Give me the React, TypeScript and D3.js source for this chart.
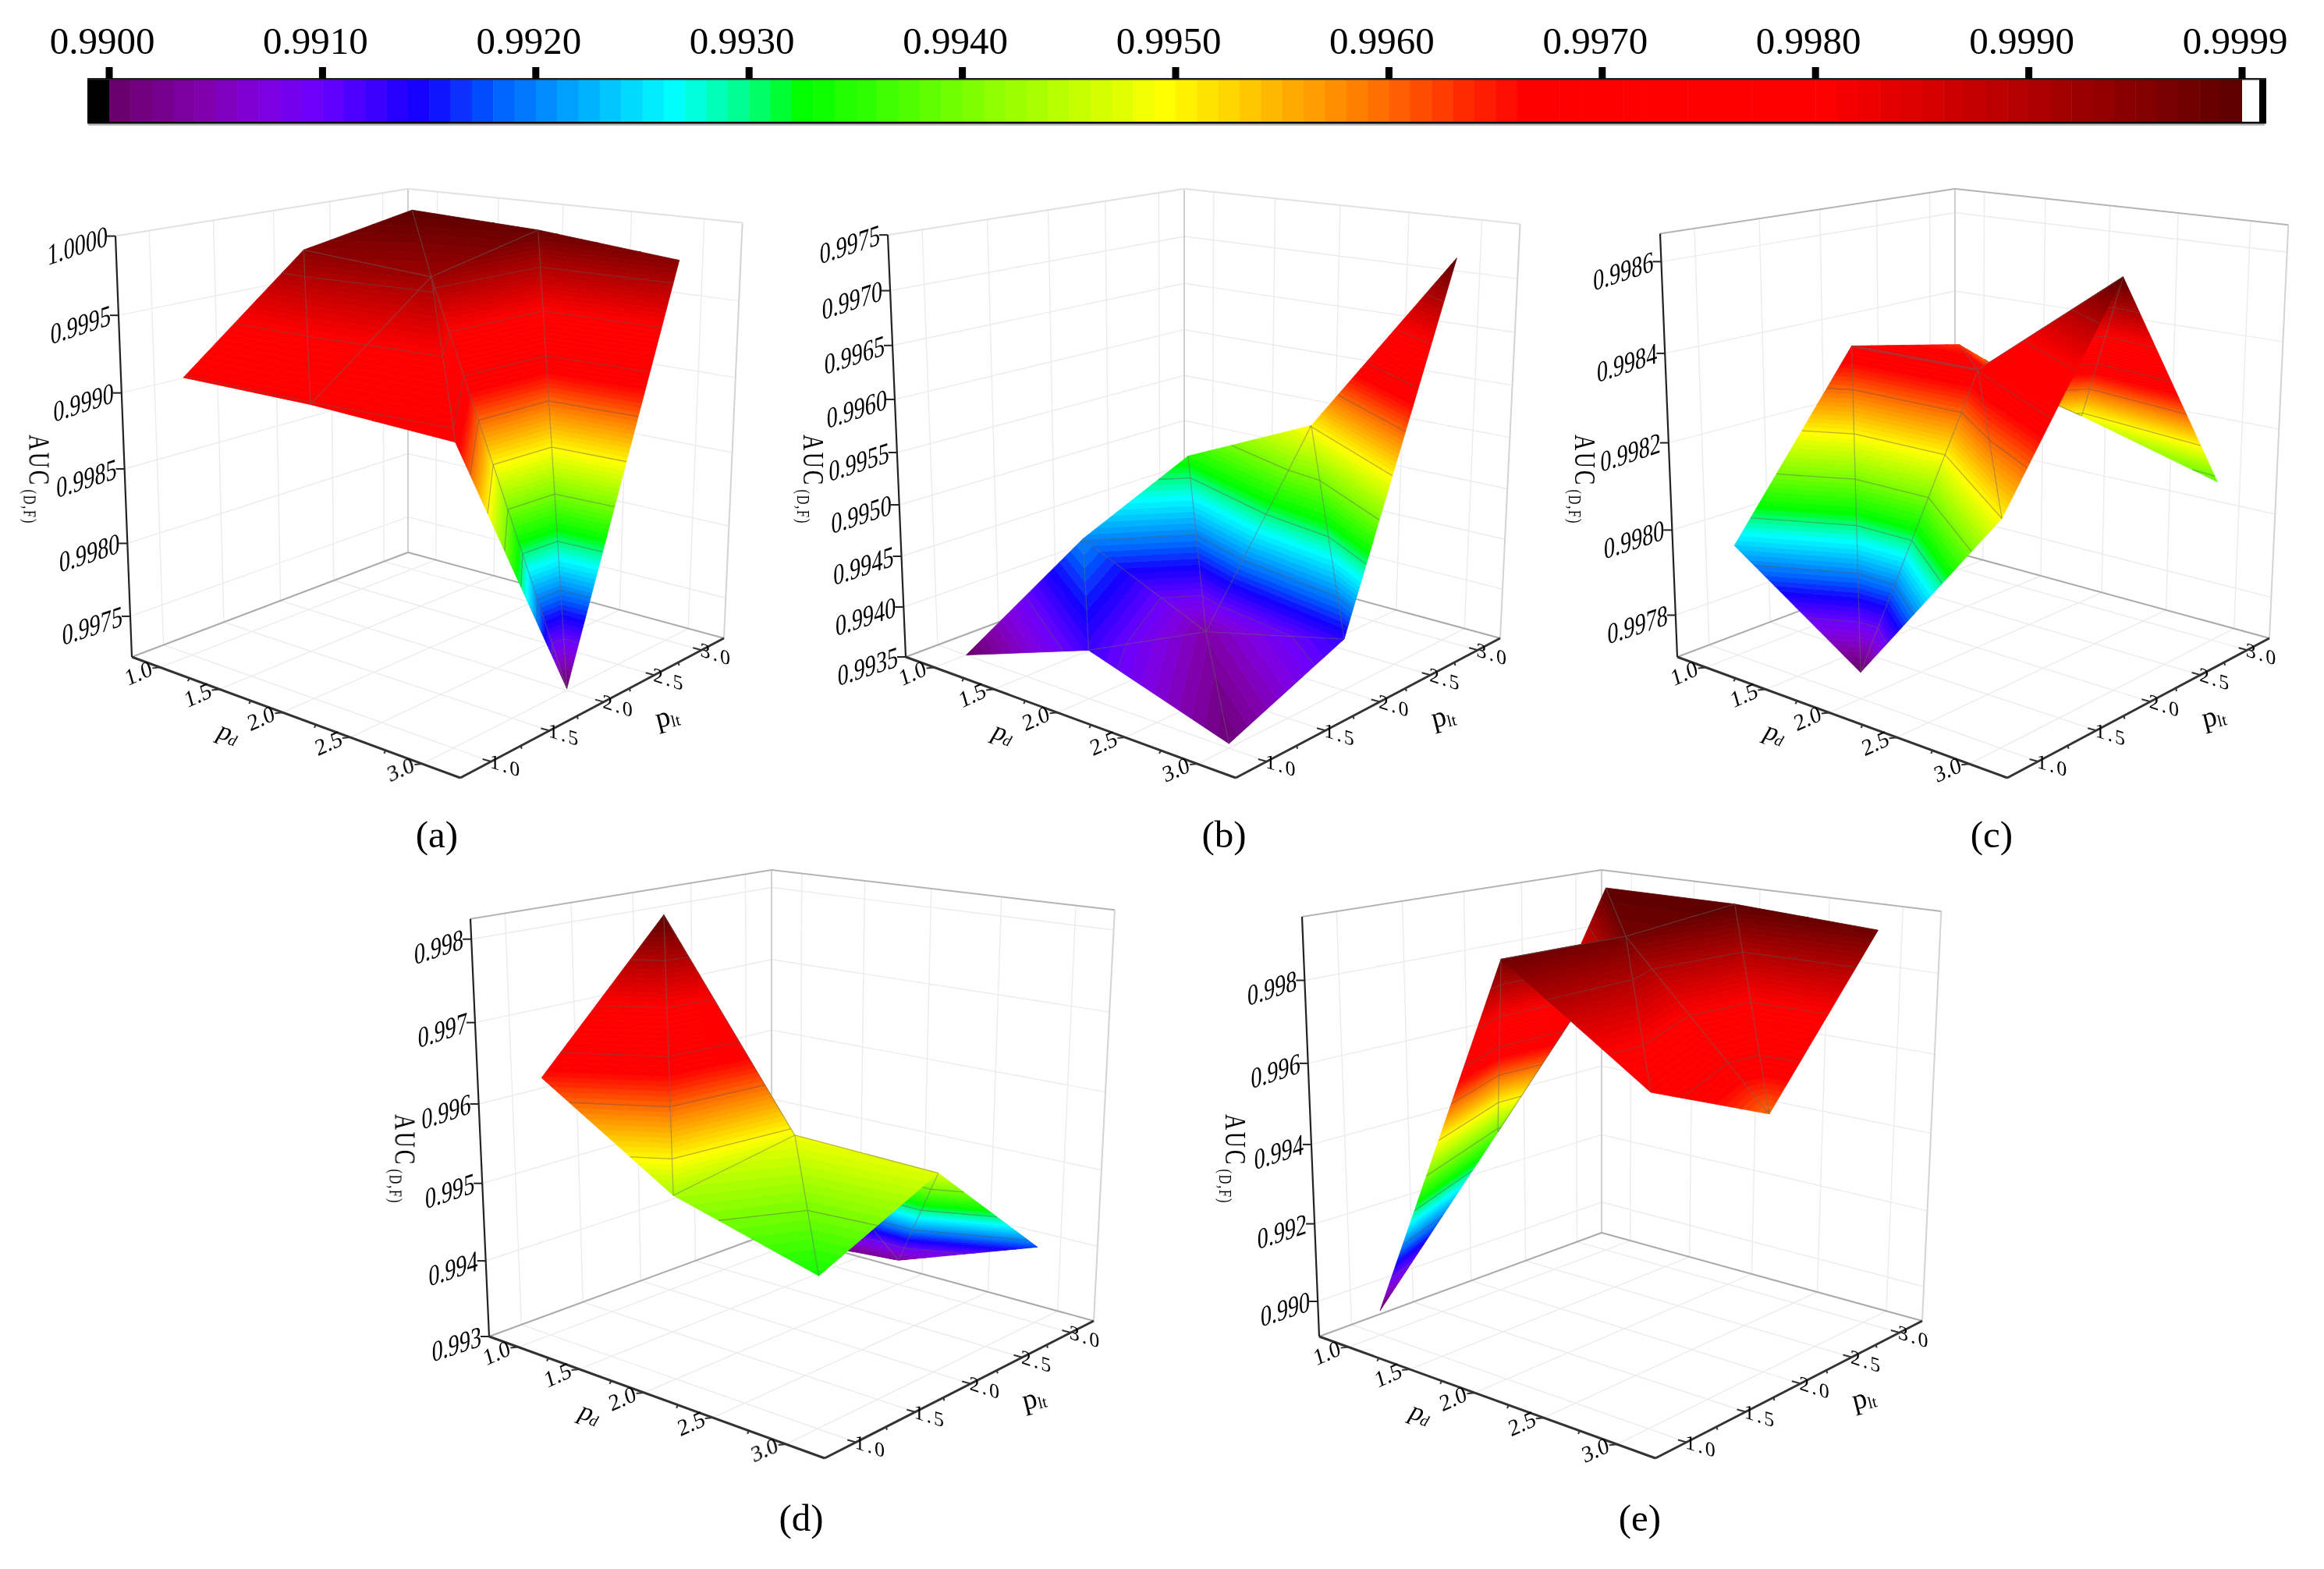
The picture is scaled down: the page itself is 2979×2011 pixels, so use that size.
import React from 'react';
import * as d3 from 'd3';

type P = [number, number];

// ---------- data ----------
const pdValues = [1, 2, 3];
const pltValues = [1, 2, 3];
// rows: pd = 1, 2, 3; columns: plt = 1, 2, 3
const valuesA = [
  [0.99909, 0.99976, 0.9999],
  [0.99909, 0.9997, 0.99986],
  [0.99905, 0.99723, 0.99977],
];
const valuesB = [
  [0.9935, 0.99425, 0.99476],
  [0.99396, 0.99366, 0.99536],
  [0.99354, 0.99399, 0.9972],
];
const valuesC = [
  [0.99796, 0.99835, 0.99829],
  [0.99776, 0.99835, 0.99817],
  [0.99818, 0.9986, 0.99808],
];
const valuesD = [
  [0.99631, 0.99801, 0.99319],
  [0.99527, 0.99553, 0.99334],
  [0.9948, 0.99547, 0.99401],
];
const valuesE = [
  [0.98972, 0.99339, 0.99923],
  [0.99901, 0.99897, 0.99924],
  [0.99671, 0.99538, 0.99906],
];
const zTicksA = [0.9975, 0.998, 0.9985, 0.999, 0.9995, 1.0];
const zTicksB = [0.9935, 0.994, 0.9945, 0.995, 0.9955, 0.996, 0.9965, 0.997, 0.9975];
const zTicksC = [0.9978, 0.998, 0.9982, 0.9984, 0.9986];
const zTicksD = [0.993, 0.994, 0.995, 0.996, 0.997, 0.998];
const zTicksE = [0.99, 0.992, 0.994, 0.996, 0.998];
const axisMajor = [1, 1.5, 2, 2.5, 3];
const axisMinor = [1.25, 1.75, 2.25, 2.75];
const barTicks = [0.99, 0.991, 0.992, 0.993, 0.994, 0.995, 0.996, 0.997, 0.998, 0.999, 1.0];
const barLabels = ['0.9900', '0.9910', '0.9920', '0.9930', '0.9940', '0.9950', '0.9960', '0.9970', '0.9980', '0.9990', '0.9999'];
const cmapStops = [0, 0.042, 0.072, 0.1, 0.147, 0.182, 0.203, 0.252, 0.266, 0.3, 0.325, 0.406, 0.495, 0.585, 0.661, 0.803, 0.9, 1];
const cmapColors = ['#660066', '#8000a8', '#7f00e0', '#6a00ff', '#1000ff', '#0060ff', '#0088ff', '#00e8ff', '#00ffff', '#00ff80', '#00ff00', '#80ff00', '#ffff00', '#ff8000', '#ff0000', '#ff0000', '#b00000', '#5c0000'];

// ---------- layout ----------
const panels = [
  { id: '(a)', values: valuesA, zDomain: [0.997217, 1.0], zTicks: zTicksA, dec: 4, L: [169, 842], F: [590, 997], R: [928, 818], B: [523, 708], T: [523, 242], Lt: [148, 304], cap: [560, 1086], top: '#e2e2e2', auc: -131 },
  { id: '(b)', values: valuesB, zDomain: [0.9935, 0.9975], zTicks: zTicksB, dec: 4, L: [1161, 842], F: [1584, 997], R: [1923, 818], B: [1518, 708], T: [1518, 242], Lt: [1138, 303], cap: [1569, 1086], top: '#e2e2e2', auc: -131 },
  { id: '(c)', values: valuesC, zDomain: [0.9977, 0.99866], zTicks: zTicksC, dec: 4, L: [2150, 842], F: [2573, 997], R: [2909, 818], B: [2506, 708], T: [2506, 242], Lt: [2128, 303], cap: [2553, 1086], top: '#b4b4b4', auc: -131 },
  { id: '(d)', values: valuesD, zDomain: [0.993, 0.99824], zTicks: zTicksD, dec: 3, L: [627, 1713], F: [1057, 1869], R: [1402, 1693], B: [989, 1580], T: [989, 1115], Lt: [603, 1174], cap: [1027, 1962], top: '#b4b4b4', auc: -120 },
  { id: '(e)', values: valuesE, zDomain: [0.98908, 0.9995], zTicks: zTicksE, dec: 3, L: [1691, 1713], F: [2122, 1869], R: [2464, 1693], B: [2053, 1580], T: [2053, 1115], Lt: [1669, 1174], cap: [2102, 1962], top: '#b4b4b4', auc: -120 },
] as const;

const SERIF = '"Liberation Serif", serif';
const cmap = d3.scaleLinear<string>().domain(cmapStops).range(cmapColors).interpolate(d3.interpolateRgb);
const linePath = d3.line<P>();
const closed = (pts: P[]) => linePath(pts) + 'Z';

function makeCamera(L: any, F: any, R: any, B: any, T: any, Lt: any) {
  const d1x = R[0] - F[0], d1y = R[1] - F[1], d2x = L[0] - F[0], d2y = L[1] - F[1];
  const ex = F[0] + B[0] - R[0] - L[0], ey = F[1] + B[1] - R[1] - L[1];
  const det = d1x * d2y - d2x * d1y;
  const p = (ex * d2y - d2x * ey) / det;
  const q = (d1x * ey - ex * d1y) / det;
  const r = ((Lt[0] - L[0]) * (1 + q)) / (T[0] - Lt[0]);
  const A = [R[0] * (1 + p) - B[0], R[1] * (1 + p) - B[1]];
  const C = [L[0] * (1 + q) - B[0], L[1] * (1 + q) - B[1]];
  const W = [T[0] * (1 + r) - B[0], T[1] * (1 + r) - B[1]];
  return (a: number, b: number, w: number): P => {
    const D = 1 + a * p + b * q + w * r;
    return [(B[0] + a * A[0] + b * C[0] + w * W[0]) / D, (B[1] + a * A[1] + b * C[1] + w * W[1]) / D];
  };
}

type V = { a: number; b: number; z: number; i: number; j: number };

function clip(poly: V[], level: number, keepAbove: boolean): V[] {
  const out: V[] = [];
  const inside = (v: V) => (keepAbove ? v.z >= level : v.z <= level);
  for (let n = 0; n < poly.length; n++) {
    const c = poly[n], d = poly[(n + 1) % poly.length];
    if (inside(c)) out.push(c);
    if (inside(c) !== inside(d)) {
      const t = (level - c.z) / (d.z - c.z);
      out.push({ a: c.a + t * (d.a - c.a), b: c.b + t * (d.b - c.b), z: level, i: -1, j: -1 });
    }
  }
  return out;
}

function Surface({ panel, proj, zS, pdS, pltS }: any) {
  const vals: number[][] = panel.values as any;
  const flat = vals.flat();
  const zMin = d3.min(flat) as number, zMax = d3.max(flat) as number;
  const step = (zMax - zMin) / 100;
  const vertex = (i: number, j: number): V => ({ a: pdS(pdValues[i]), b: pltS(pltValues[j]), z: vals[i][j], i, j });
  const tris: V[][] = [];
  for (let i = 0; i < 2; i++)
    for (let j = 0; j < 2; j++) {
      tris.push([vertex(i, j), vertex(i, j + 1), vertex(i + 1, j)]);
      tris.push([vertex(i, j + 1), vertex(i + 1, j + 1), vertex(i + 1, j)]);
    }
  const depth = (t: V[]) => d3.sum(t, (v) => 0.62 * v.a + 0.78 * v.b);
  tris.sort((s, t) => depth(s) - depth(t));
  const pr = (v: V): P => proj(v.a, v.b, zS(v.z));

  // each interior edge belongs to the last triangle painted over it
  const seen = new Set<string>();
  const edgesOf: [V, V][][] = tris.map(() => []);
  for (let n = tris.length - 1; n >= 0; n--) {
    const t = tris[n];
    for (let e = 0; e < 3; e++) {
      const u = t[e], v = t[(e + 1) % 3];
      const key = [u.i * 10 + u.j, v.i * 10 + v.j].sort().join('-');
      const border = (u.i === v.i && (u.i === 0 || u.i === 2)) || (u.j === v.j && (u.j === 0 || u.j === 2));
      if (!border && !seen.has(key)) {
        seen.add(key);
        edgesOf[n].push([u, v]);
      }
    }
  }

  return (
    <g>
      {tris.map((t, n) => {
        const lo = d3.min(t, (v) => v.z) as number, hi = d3.max(t, (v) => v.z) as number;
        const k0 = Math.max(0, Math.floor((lo - zMin) / step));
        const k1 = Math.min(99, Math.floor((hi - zMin) / step));
        const bands: React.ReactNode[] = [];
        const lines: React.ReactNode[] = [];
        for (let k = k0; k <= k1; k++) {
          const poly = clip(clip(t, zMin + k * step, true), zMin + (k + 1) * step, false);
          if (poly.length >= 3) {
            const col = cmap((k + 0.5) / 100);
            bands.push(<path key={k} d={closed(poly.map(pr))} fill={col} stroke={col} strokeWidth={0.8} />);
          }
        }
        for (let m = 1; m < 10; m++) {
          const level = zMin + m * 10 * step;
          if (level <= lo || level >= hi) continue;
          const pts: P[] = [];
          for (let e = 0; e < 3; e++) {
            const c = t[e], d = t[(e + 1) % 3];
            if ((c.z - level) * (d.z - level) < 0) {
              const s = (level - c.z) / (d.z - c.z);
              pts.push(proj(c.a + s * (d.a - c.a), c.b + s * (d.b - c.b), zS(level)));
            }
          }
          if (pts.length === 2) lines.push(<path key={'c' + m} d={linePath(pts) as string} stroke="#555" strokeOpacity={0.42} strokeWidth={1.3} fill="none" />);
        }
        return (
          <g key={n}>
            {bands}
            {lines}
            {edgesOf[n].map(([u, v], e) => (
              <path key={'e' + e} d={linePath([pr(u), pr(v)]) as string} stroke="#666" strokeOpacity={0.45} strokeWidth={1.3} fill="none" />
            ))}
          </g>
        );
      })}
    </g>
  );
}

function Panel({ panel }: any) {
  const proj = makeCamera(panel.L, panel.F, panel.R, panel.B, panel.T, panel.Lt);
  const pdS = d3.scaleLinear().domain([0.75, 3.25]).range([0, 1]);
  const pltS = d3.scaleLinear().domain([0.75, 3.25]).range([1, 0]);
  const zS = d3.scaleLinear().domain(panel.zDomain).range([0, 1]);
  const seg = (s: P, e: P) => linePath([s, e]) as string;
  const GRID = '#ececec';
  const Rt = proj(1, 0, 1);
  const axisDark = '#333';
  const pd2 = proj(pdS(2), 1, 0);
  const plt2 = proj(1, pltS(2), 0);
  return (
    <g>
      {/* walls and floor grid */}
      {panel.zTicks.map((t: number) => (
        <g key={t} stroke={GRID} strokeWidth={1.4}>
          <path d={seg(proj(0, 1, zS(t)), proj(0, 0, zS(t)))} />
          <path d={seg(proj(0, 0, zS(t)), proj(1, 0, zS(t)))} />
        </g>
      ))}
      {axisMajor.map((t) => (
        <g key={t} stroke={GRID} strokeWidth={1.4}>
          <path d={seg(proj(pdS(t), 0, 0), proj(pdS(t), 0, 1))} />
          <path d={seg(proj(0, pltS(t), 0), proj(0, pltS(t), 1))} />
          <path d={seg(proj(pdS(t), 0, 0), proj(pdS(t), 1, 0))} />
          <path d={seg(proj(0, pltS(t), 0), proj(1, pltS(t), 0))} />
        </g>
      ))}
      {/* frame */}
      <g fill="none">
        <path d={seg(proj(0, 0, 0), proj(0, 0, 1))} stroke="#cfcfcf" strokeWidth={2} />
        <path d={seg(proj(1, 0, 0), Rt)} stroke="#d4d4d4" strokeWidth={2} />
        <path d={seg(proj(0, 1, 1), proj(0, 0, 1))} stroke={panel.top} strokeWidth={2} />
        <path d={seg(proj(0, 0, 1), Rt)} stroke={panel.top} strokeWidth={2} />
        <path d={seg(proj(0, 0, 0), proj(0, 1, 0))} stroke="#aaa" strokeWidth={2} />
        <path d={seg(proj(0, 0, 0), proj(1, 0, 0))} stroke="#aaa" strokeWidth={2} />
      </g>

      <Surface panel={panel} proj={proj} zS={zS} pdS={pdS} pltS={pltS} />

      {/* axes */}
      <g fill="none" stroke={axisDark}>
        <path d={seg(proj(0, 1, 0), proj(0, 1, 1))} strokeWidth={2.2} stroke="#222" />
        <path d={seg(proj(0, 1, 0), proj(1, 1, 0))} strokeWidth={3} />
        <path d={seg(proj(1, 1, 0), proj(1, 0, 0))} strokeWidth={3} />
      </g>
      {panel.zTicks.map((t: number) => {
        const [x, y] = proj(0, 1, zS(t));
        return (
          <g key={t}>
            <path d={seg([x, y], [x - 11, y])} stroke="#222" strokeWidth={2} />
            <text transform={`translate(${x - 10},${y + 12}) matrix(0.74,-0.245,0,1,0,0)`} textAnchor="end" fontFamily={SERIF} fontSize={38} fill="#000">
              {t.toFixed(panel.dec)}
            </text>
          </g>
        );
      })}
      {axisMajor.map((t) => {
        const [x, y] = proj(pdS(t), 1, 0);
        const [x2, y2] = proj(1, pltS(t), 0);
        return (
          <g key={t}>
            <path d={seg([x, y], [x - 10, y + 1])} stroke={axisDark} strokeWidth={2} />
            <text transform={`translate(${x - 28},${y + 7}) rotate(-24) skewX(-8)`} dy="0.35em" textAnchor="middle" fontFamily={SERIF} fontSize={29} fill="#000">
              {t.toFixed(1)}
            </text>
            <path d={seg([x2, y2], [x2 - 11, y2 - 3])} stroke={axisDark} strokeWidth={2} />
            <text transform={`translate(${x2 + 19},${y2 + 5}) matrix(1,0.32,0,1,0,0)`} dy="0.35em" textAnchor="middle" letterSpacing={3} fontFamily={SERIF} fontSize={26} fill="#000">
              {t.toFixed(1)}
            </text>
          </g>
        );
      })}
      {axisMinor.map((t) => {
        const [x, y] = proj(pdS(t), 1, 0);
        const [x2, y2] = proj(1, pltS(t), 0);
        return (
          <g key={t} stroke={axisDark} strokeWidth={2}>
            <path d={seg([x, y], [x - 2, y + 4])} />
            <path d={seg([x2, y2], [x2 + 1, y2 + 4])} />
          </g>
        );
      })}
      {/* axis titles */}
      <text transform={`translate(${pd2[0] - 74},${pd2[1] + 36}) rotate(20) skewX(-10)`} textAnchor="middle" fontFamily={SERIF} fontSize={34} fill="#000">
        p<tspan fontSize={20} dy={3}>d</tspan>
      </text>
      <text transform={`translate(${plt2[0] + 84},${plt2[1] + 30}) rotate(-14)`} textAnchor="middle" fontFamily={SERIF} fontSize={37} fill="#000">
        p<tspan fontSize={21} dy={3}>lt</tspan>
      </text>
      <text transform={`translate(${panel.L[0] + panel.auc},${panel.L[1] - 285}) rotate(90) scale(0.9,1.25)`} fontFamily={SERIF} fontSize={31} fill="#000" letterSpacing={3}>
        AUC
        <tspan fontSize={18} dx={4} dy={6} letterSpacing={2}>(D,F)</tspan>
      </text>
      <text x={panel.cap[0]} y={panel.cap[1]} textAnchor="middle" fontFamily={SERIF} fontSize={49} fill="#000">
        {panel.id}
      </text>
    </g>
  );
}

function ColorBar() {
  const x = d3.scaleLinear().domain([0.99, 1.0]).range([140, 2874]);
  const bandW = (x(1.0) - x(0.99)) / 100;
  const bands = d3.range(100);
  return (
    <g>
      <rect x={113} y={158} width={2790} height={3} fill="#bbb" />
      <rect x={112} y={100} width={28} height={58} fill="#000" />
      {bands.map((b) => (
        <rect key={b} x={x(0.99) + b * bandW} y={100} width={bandW + 0.5} height={58} fill={cmap((b + 0.5) / 100)} />
      ))}
      <rect x={2874} y={101} width={22} height={56} fill="#fff" />
      <rect x={2896} y={100} width={9} height={58} fill="#000" />
      <rect x={112} y={100} width={2793} height={2.5} fill="#222" />
      <rect x={112} y={156} width={2793} height={2.5} fill="#000" />
      {barTicks.map((t, n) => (
        <g key={t}>
          <rect x={x(t) - 4.5} y={86} width={9} height={15} fill="#000" />
          <text x={x(t) - 9} y={69} textAnchor="middle" fontFamily={SERIF} fontSize={49} fill="#000">
            {barLabels[n]}
          </text>
        </g>
      ))}
    </g>
  );
}

export default function App() {
  return (
    <svg width={2979} height={2011} viewBox="0 0 2979 2011" style={{ position: 'absolute', left: 0, top: 0, display: 'block', background: '#fff' }}>
      <defs>
        <filter id="soft" x="0" y="0" width="2979" height="2011" filterUnits="userSpaceOnUse">
          <feGaussianBlur stdDeviation="0.6" />
        </filter>
      </defs>
      <g filter="url(#soft)">
        <ColorBar />
        {panels.map((p) => (
          <Panel key={p.id} panel={p} />
        ))}
      </g>
    </svg>
  );
}
